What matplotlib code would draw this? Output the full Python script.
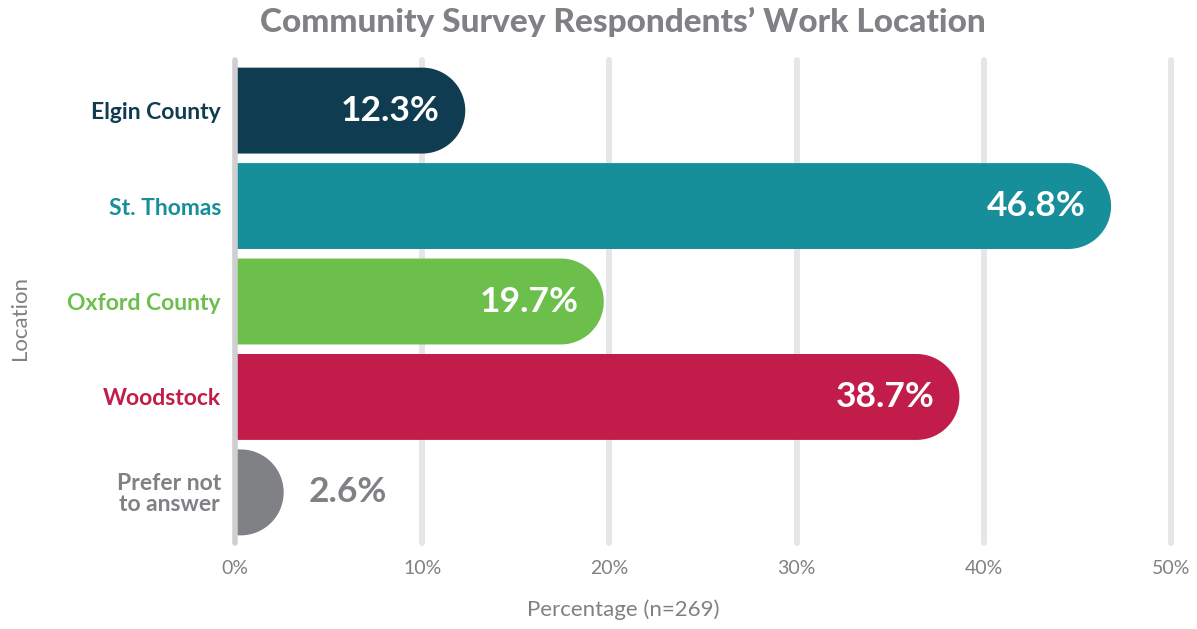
import numpy as np
import matplotlib.pyplot as plt
from matplotlib.patches import Polygon

locations = ['Elgin County', 'St. Thomas', 'Oxford County', 'Woodstock', 'Prefer not\nto answer']
percentages = [12.3, 46.8, 19.7, 38.7, 2.6]
bar_colors = ['#0f3c50', '#178f9b', '#6dbf4c', '#c11c4a', '#808185']
x_ticks = [0, 10, 20, 30, 40, 50]

GRAY = '#808185'
plt.rcParams['font.family'] = ['Lato', 'DejaVu Sans']

W, H = 1197, 629
fig = plt.figure(figsize=(W / 100, H / 100), dpi=100)
ax = fig.add_axes([235 / W, 1 - 543 / H, (1171 - 235) / W, (543 - 60) / H])
ax.set_xlim(0, 50)
ax.set_ylim(4.53, -0.53)

BAR_H = 0.9


def pill_bar(ax, y, value, color):
    # bar with a semicircular right end (radius = half the bar height, in pixels)
    (x0, y0), (x1, y1) = ax.transData.transform([(0, 0), (1, 1)])
    px_x, px_y = abs(x1 - x0), abs(y1 - y0)
    rx = min(BAR_H / 2 * px_y / px_x, value)
    cx = value - rx
    t = np.linspace(np.pi / 2, -np.pi / 2, 80)
    arc = np.column_stack([cx + rx * np.cos(t), y - BAR_H / 2 * np.sin(t)])
    pts = np.vstack([[0, y - BAR_H / 2], arc, [0, y + BAR_H / 2]])
    ax.add_patch(Polygon(pts, closed=True, facecolor=color, edgecolor='none', zorder=2))


# grid
for x in x_ticks[1:]:
    ax.axvline(x, color='#e6e6e8', lw=4.3, solid_capstyle='round', zorder=0, clip_on=False)
ax.axvline(0, color='#cfcfd1', lw=4.0, solid_capstyle='round', zorder=3, clip_on=False)

for i, (v, c) in enumerate(zip(percentages, bar_colors)):
    pill_bar(ax, i, v, c)
    if v > 5:
        ax.text(v - 1.35, i, f'{v}%', ha='right', va='center', color='white',
                fontsize=25.5, fontweight='bold', zorder=4)
    else:
        ax.text(v + 1.35, i, f'{v}%', ha='left', va='center', color=GRAY,
                fontsize=25.5, fontweight='bold', zorder=4)

ax.set_yticks(range(len(locations)))
ax.set_yticklabels(locations, fontsize=16.5, fontweight='bold', multialignment='center',
                   linespacing=1.0)
for lab, c in zip(ax.get_yticklabels(), bar_colors):
    lab.set_color(c)
ax.set_xticks(x_ticks)
ax.set_xticklabels([f'{x}%' for x in x_ticks], fontsize=14, color=GRAY)
ax.tick_params(axis='x', length=0, pad=12)
ax.tick_params(axis='y', length=0, pad=10)
for s in ax.spines.values():
    s.set_visible(False)

fig.text(623 / W, 1 - 22 / H, 'Community Survey Respondents\u2019 Work Location',
         ha='center', va='center', fontsize=24, fontweight='black', color=GRAY)
fig.text(623 / W, 1 - 610 / H, 'Percentage (n=269)', ha='center', va='center',
         fontsize=16, color=GRAY)
fig.text(20 / W, 1 - 318 / H, 'Location', ha='center', va='center', rotation=90,
         fontsize=16, color=GRAY)

fig.savefig('out.png', dpi=100)
